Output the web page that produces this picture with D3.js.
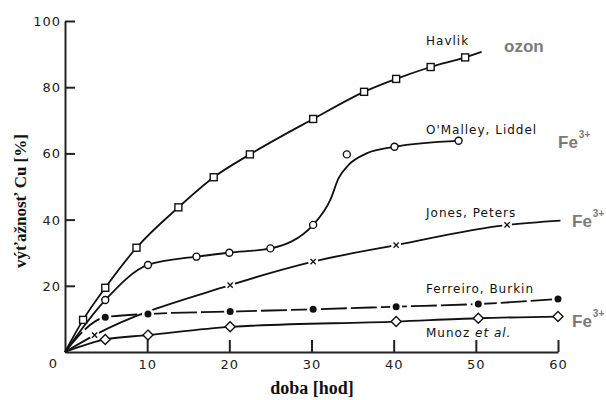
<!DOCTYPE html>
<html><head><meta charset="utf-8">
<script src="https://cdn.jsdelivr.net/npm/d3@7"></script>
<style>body{margin:0;background:#fff}svg{display:block}</style>
</head><body>
<script>
// ---- data ----
const xTicks = [10, 20, 30, 40, 50, 60];
const yTicks = [20, 40, 60, 80, 100];

const havlikMarkers = [[2.2,9.7],[4.9,19.4],[8.7,31.5],[13.8,43.7],[18.1,52.8],[22.5,59.7],[30.2,70.4],[36.4,78.6],[40.3,82.5],[44.5,86.1],[48.7,89.0]];
const havlikCurve = [[0,0],[2.2,9.7],[4.9,19.4],[8.7,31.5],[13.8,43.7],[18.1,52.8],[22.5,59.7],[30.2,70.4],[36.4,78.6],[40.3,82.5],[44.5,86.1],[48.7,89.0],[50.7,90.7]];

const omalleyMarkers = [[4.9,15.7],[10.1,26.3],[16.0,28.8],[20.0,30.0],[25.0,31.3],[30.2,38.4],[34.3,59.7],[40.1,62.0],[47.9,63.8]];
const omalleyCurve = [[0,0],[4.9,15.7],[10.1,26.3],[16.0,28.8],[20.0,30.0],[25.0,31.3],[30.2,38.4],[32.3,46.0],[33.3,52.5],[34.5,56.5],[36.7,60.0],[40.1,62.0],[47.9,63.8]];

const jonesMarkers = [[3.6,5.1],[20.1,20.2],[30.2,27.3],[40.3,32.3],[53.8,38.4]];
const jonesCurve = [[0,0],[3.6,5.1],[20.1,20.2],[30.2,27.3],[40.3,32.3],[53.8,38.4],[60.3,39.7]];

const ferreiroMarkers = [[4.9,10.5],[10.1,11.5],[20.1,12.2],[30.2,12.9],[40.3,13.7],[50.3,14.5],[60.0,16.0]];
const ferreiroCurve = [[0,0],[4.9,10.5],[10.1,11.5],[20.1,12.2],[30.2,12.9],[40.3,13.7],[50.3,14.5],[60.0,16.0]];

const munozMarkers = [[4.9,3.8],[10.1,5.1],[20.1,7.6],[40.3,9.2],[50.3,10.2],[60.0,10.7]];
const munozCurve = [[0,0],[4.9,3.8],[10.1,5.1],[20.1,7.6],[40.3,9.2],[50.3,10.2],[60.0,10.7]];

const seriesLabels = ["Havlik", "O'Malley, Liddel", "Jones, Peters", "Ferreiro, Burkin", "Munoz"];
const oxidantLabels = ["ozon", "Fe", "Fe", "Fe"];

// ---- drawing ----
const W = 606, H = 400;
const svg = d3.select("body").append("svg").attr("width", W).attr("height", H);
const x = d3.scaleLinear().domain([0, 60]).range([65, 558]);
const y = d3.scaleLinear().domain([0, 100]).range([352, 21]);

// axes
const xAxis = d3.axisBottom(x).tickValues(xTicks).tickSize(-12).tickPadding(16).tickSizeOuter(0);
const gx = svg.append("g").attr("transform", `translate(0,${y(0)})`).call(xAxis);
const yAxis = d3.axisLeft(y).tickValues(yTicks).tickSize(-10).tickPadding(4).tickSizeOuter(0);
const gy = svg.append("g").attr("transform", `translate(${x(0)},0)`).call(yAxis);
[gx, gy].forEach(g => {
  g.select(".domain").attr("stroke", "#222").attr("stroke-width", 2);
  g.selectAll(".tick line").attr("stroke", "#222").attr("stroke-width", 2);
  g.selectAll(".tick text").attr("font-family", "DejaVu Sans, sans-serif").attr("font-size", 13)
    .attr("letter-spacing", 1).attr("fill", "#222");
});
gy.selectAll(".tick text").attr("dy", "0.35em");
gx.selectAll(".tick text").attr("dy", "0.1em");
svg.append("text").attr("x", 53).attr("y", 368).attr("text-anchor", "middle")
  .attr("font-family", "DejaVu Sans, sans-serif").attr("font-size", 13).attr("fill", "#222").text("0");

// axis titles
svg.append("text").attr("transform", "translate(26,201) rotate(-90)").attr("text-anchor", "middle")
  .attr("font-family", "Liberation Serif, serif").attr("font-weight", "bold").attr("font-size", 17)
  .attr("fill", "#111").text("výťažnosť Cu [%]");
svg.append("text").attr("x", 312).attr("y", 394).attr("text-anchor", "middle")
  .attr("font-family", "Liberation Serif, serif").attr("font-weight", "bold").attr("font-size", 18)
  .attr("fill", "#111").text("doba [hod]");

const line = d3.line().x(d => x(d[0])).y(d => y(d[1])).curve(d3.curveMonotoneX);
function drawLine(data, dash) {
  svg.append("path").datum(data).attr("d", line).attr("fill", "none")
    .attr("stroke", "#111").attr("stroke-width", 1.8).attr("stroke-dasharray", dash || null);
}
drawLine(havlikCurve);
drawLine(omalleyCurve);
drawLine(jonesCurve);
drawLine(ferreiroCurve, "26,4");
drawLine(munozCurve);

// halos (gaps) around x and filled markers
svg.selectAll(".haloJ").data(jonesMarkers).join("circle").attr("cx", d => x(d[0])).attr("cy", d => y(d[1])).attr("r", 5).attr("fill", "#fff");
svg.selectAll(".haloF").data(ferreiroMarkers).join("circle").attr("cx", d => x(d[0])).attr("cy", d => y(d[1])).attr("r", 6).attr("fill", "#fff");

// markers
svg.append("g").selectAll("rect").data(havlikMarkers).join("rect")
  .attr("x", d => x(d[0]) - 3.5).attr("y", d => y(d[1]) - 3.5).attr("width", 7).attr("height", 7)
  .attr("fill", "#fff").attr("stroke", "#111").attr("stroke-width", 1.4);
svg.append("g").selectAll("circle").data(omalleyMarkers).join("circle")
  .attr("cx", d => x(d[0])).attr("cy", d => y(d[1])).attr("r", 3.5)
  .attr("fill", "#fff").attr("stroke", "#111").attr("stroke-width", 1.4);
svg.append("g").selectAll("path").data(jonesMarkers).join("path")
  .attr("d", d => { const cx = x(d[0]), cy = y(d[1]), s = 2.6; return `M${cx-s},${cy-s}L${cx+s},${cy+s}M${cx-s},${cy+s}L${cx+s},${cy-s}`; })
  .attr("stroke", "#111").attr("stroke-width", 1.3);
svg.append("g").selectAll("circle").data(ferreiroMarkers).join("circle")
  .attr("cx", d => x(d[0])).attr("cy", d => y(d[1])).attr("r", 3.5).attr("fill", "#111");
svg.append("g").selectAll("path").data(munozMarkers).join("path")
  .attr("d", d => { const cx = x(d[0]), cy = y(d[1]), s = 5; return `M${cx},${cy-s}L${cx+s},${cy}L${cx},${cy+s}L${cx-s},${cy}Z`; })
  .attr("fill", "#fff").attr("stroke", "#111").attr("stroke-width", 1.4);

// series labels
const lab = (t, lx, ly) => svg.append("text").attr("x", lx).attr("y", ly)
  .attr("font-family", "DejaVu Sans, sans-serif").attr("font-size", 12).attr("letter-spacing", 1)
  .attr("fill", "#111").text(t);
lab(seriesLabels[0], 426, 45);
lab(seriesLabels[1], 426, 134);
lab(seriesLabels[2], 426, 217);
lab(seriesLabels[3], 426, 293);
const mz = lab(seriesLabels[4] + " ", 426, 337);
mz.append("tspan").attr("font-style", "italic").text("et al.");

// oxidant labels (grey)
const ox = (t, lx, ly, sup) => {
  const tx = svg.append("text").attr("x", lx).attr("y", ly)
    .attr("font-family", "Liberation Sans, Arial, sans-serif").attr("font-weight", "bold")
    .attr("font-size", 17).attr("fill", "#7a7a7a").text(t);
  if (sup) tx.append("tspan").attr("font-size", 10).attr("dx", 1).attr("dy", -10).text(sup);
};
ox(oxidantLabels[0], 504, 52);
ox(oxidantLabels[1], 558, 148, "3+");
ox(oxidantLabels[2], 572, 227, "3+");
ox(oxidantLabels[3], 572, 327, "3+");
</script>
</body></html>
